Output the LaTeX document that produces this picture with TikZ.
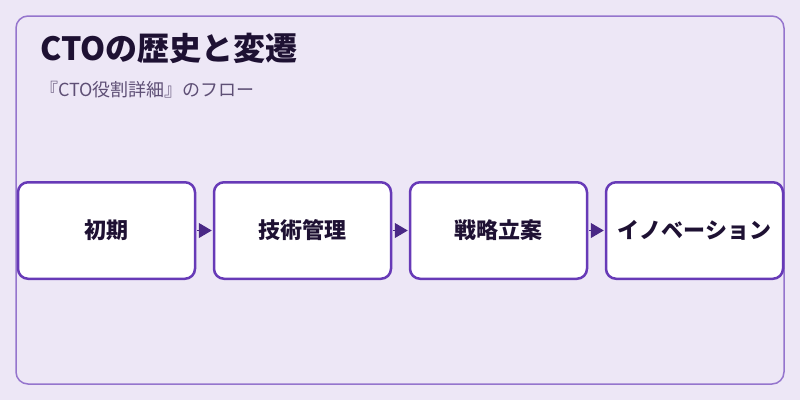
\documentclass[tikz,border=0pt]{standalone}
\usepackage{fontspec}
\setmainfont{Noto Sans CJK JP}
\usetikzlibrary{positioning,arrows.meta}

\definecolor{bgpurple}{HTML}{EDE7F6}
\definecolor{framepurple}{HTML}{9575CD}
\definecolor{boxpurple}{HTML}{673AB7}
\definecolor{tippurple}{HTML}{4A2886}
\definecolor{inkdark}{HTML}{1E1133}
\definecolor{inksub}{HTML}{5E4F75}

\begin{document}
\begin{tikzpicture}[x=1pt, y=-1pt,
stage/.style={draw=boxpurple, fill=white, line width=2.5pt, rounded corners=10pt,
  minimum width=177pt, minimum height=96.5pt, inner sep=0pt,
  text=inkdark, font=\bfseries\fontsize{22}{26}\selectfont},
flow/.style={-{Triangle[length=13pt,width=15pt]}, color=tippurple, line width=1pt,
  shorten <=1pt, shorten >=1pt}]

\def\gap{16.5pt}	% distance between the stages

% Hintergrund und Rahmen
\useasboundingbox[fill=bgpurple] (0,0) rectangle (800,400);
\draw[framepurple, line width=1.5pt, rounded corners=12pt] (16,16) rectangle (784,384);

% Titel
\node[anchor=base west, inner sep=0pt, text=inkdark, font=\bfseries\fontsize{32}{38}\selectfont]
  (title) at (40,60) {CTOの歴史と変遷};
\node[anchor=base west, inner sep=0pt, text=inksub, font=\fontsize{18}{22}\selectfont]
  (subtitle) at (40,96.5) {『CTO役割詳細』のフロー};

% Stufen
\node[stage] (early) at (106.5,230.5) {初期};
\node[stage, right=\gap of early] (techmgmt) {技術管理};
\node[stage, right=\gap of techmgmt] (strategy) {戦略立案};
\node[stage, right=\gap of strategy] (innovation) {イノベーション};

\draw[flow] (early) -- (techmgmt);
\draw[flow] (techmgmt) -- (strategy);
\draw[flow] (strategy) -- (innovation);

\end{tikzpicture}
\end{document}
